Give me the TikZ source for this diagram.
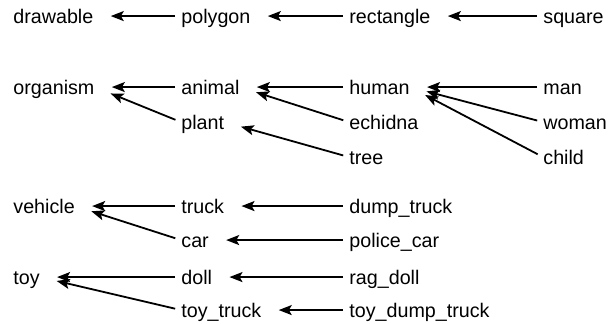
\documentclass[tikz,border=0pt]{standalone}
\usepackage{fontspec}
\setmainfont{Liberation Sans}
\usetikzlibrary{arrows.meta}
\tikzset{
  cls/.style={anchor=base west, inner sep=0pt, text height=1.5ex, text depth=0pt, font=\fontsize{9.85}{12}\selectfont},
  isa/.style={-{Stealth[length=6.5pt,width=5pt,inset=1.4pt]}, line width=0.9pt, shorten >=8.5pt, shorten <=3pt}
}
\begin{document}
\begin{tikzpicture}[x=0.5pt,y=-0.5pt]
\useasboundingbox (0,0) rectangle (609,324);
\node [cls] (drawable) at (13,24) {drawable};
\node [cls] (polygon) at (181,24) {polygon};
\node [cls] (rectangle) at (349,24) {rectangle};
\node [cls] (square) at (543,24) {square};
\node [cls] (organism) at (13,95) {organism};
\node [cls] (animal) at (181,95) {animal};
\node [cls] (human) at (349,95) {human};
\node [cls] (man) at (543,95) {man};
\node [cls] (plant) at (181,130) {plant};
\node [cls] (echidna) at (349,130) {echidna};
\node [cls] (woman) at (543,130) {woman};
\node [cls] (tree) at (349,165) {tree};
\node [cls] (child) at (543,165) {child};
\node [cls] (vehicle) at (13,214) {vehicle};
\node [cls] (truck) at (181,214) {truck};
\node [cls] (dumptruck) at (349,214) {dump\_truck};
\node [cls] (car) at (181,248) {car};
\node [cls] (policecar) at (349,248) {police\_car};
\node [cls] (toy) at (13,285) {toy};
\node [cls] (doll) at (181,285) {doll};
\node [cls] (ragdoll) at (349,285) {rag\_doll};
\node [cls] (toytruck) at (181,318) {toy\_truck};
\node [cls] (toydumptruck) at (349,318) {toy\_dump\_truck};
\draw [isa] (polygon.west) -- (drawable.east);
\draw [isa] (rectangle.west) -- (polygon.east);
\draw [isa] (square.west) -- (rectangle.east);
\draw [isa] (animal.west) -- (organism.east);
\draw [isa] (plant.west) -- (organism.east);
\draw [isa] (human.west) -- (animal.east);
\draw [isa] (echidna.west) -- (animal.east);
\draw [isa] (tree.west) -- (plant.east);
\draw [isa] (man.west) -- (human.east);
\draw [isa] (woman.west) -- (human.east);
\draw [isa] (child.west) -- (human.east);
\draw [isa] (truck.west) -- (vehicle.east);
\draw [isa] (car.west) -- (vehicle.east);
\draw [isa] (dumptruck.west) -- (truck.east);
\draw [isa] (policecar.west) -- (car.east);
\draw [isa] (doll.west) -- (toy.east);
\draw [isa] (toytruck.west) -- (toy.east);
\draw [isa] (ragdoll.west) -- (doll.east);
\draw [isa] (toydumptruck.west) -- (toytruck.east);
\end{tikzpicture}
\end{document}
